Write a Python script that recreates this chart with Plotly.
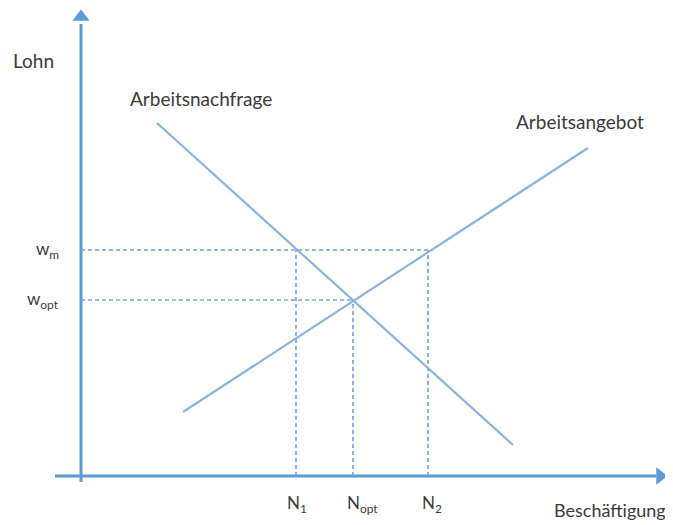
import plotly.graph_objects as go

# Data (chart units: origin at axis intersection)
demand_x = [76, 432]
demand_y = [353, 31]
supply_x = [102, 507]
supply_y = [64, 328]
w_levels = {"w_m": 226, "w_opt": 176}
n_levels = {"N1": 215, "N_opt": 272, "N2": 347}
w_labels = ["w<sub>m</sub>", "w<sub>opt</sub>"]
n_labels = ["N<sub>1</sub>", "N<sub>opt</sub>", "N<sub>2</sub>"]
x_axis_span = [-26, 575]
y_axis_span = [-6, 452]

AX = "#5B9BD5"
CURVE = "#8AB2DF"
DASH = "#6FA3DA"
TXT = "#3a3a3a"
FONT = "Lato"

fig = go.Figure()

# axes with arrowheads
fig.add_trace(go.Scatter(x=x_axis_span, y=[0, 0], mode="lines",
                         line=dict(color=AX, width=3), hoverinfo="skip"))
fig.add_trace(go.Scatter(x=[0, 0], y=y_axis_span, mode="lines",
                         line=dict(color=AX, width=3), hoverinfo="skip"))
fig.add_trace(go.Scatter(x=[x_axis_span[1] + 4], y=[0], mode="markers",
                         marker=dict(symbol="triangle-right", size=15, color=AX), hoverinfo="skip"))
fig.add_trace(go.Scatter(x=[0], y=[y_axis_span[1] + 7], mode="markers",
                         marker=dict(symbol="triangle-up", size=15, color=AX), hoverinfo="skip"))

# dashed guide lines
wm, wo = w_levels["w_m"], w_levels["w_opt"]
n1, no, n2 = n_levels["N1"], n_levels["N_opt"], n_levels["N2"]
dash_lines = [
    ([0, n2], [wm, wm]),
    ([0, no], [wo, wo]),
    ([n1, n1], [0, wm]),
    ([no, no], [0, wo]),
    ([n2, n2], [0, wm]),
]
for xs, ys in dash_lines:
    fig.add_trace(go.Scatter(x=xs, y=ys, mode="lines",
                             line=dict(color=DASH, width=1.6, dash="4px,3px"), hoverinfo="skip"))

# demand and supply
fig.add_trace(go.Scatter(x=demand_x, y=demand_y, mode="lines",
                         line=dict(color=CURVE, width=2.2), hoverinfo="skip"))
fig.add_trace(go.Scatter(x=supply_x, y=supply_y, mode="lines",
                         line=dict(color=CURVE, width=2.2), hoverinfo="skip"))

ann = []
def txt(x, y, s, size=19, xanchor="center"):
    ann.append(dict(x=x, y=y, text=s, showarrow=False, xref="x", yref="y",
                    xanchor=xanchor,
                    font=dict(family=FONT, size=size, color=TXT)))

txt(-48, 416, "Lohn")
txt(587, -34, "Beschäftigung", size=18, xanchor="right")
txt(120, 378, "Arbeitsnachfrage")
txt(499, 355, "Arbeitsangebot")
txt(-34, wm, w_labels[0], 17)
txt(-38, wo, w_labels[1], 17)
txt(n1 + 1, -28, n_labels[0], 17)
txt(no + 9, -28, n_labels[1], 17)
txt(n2 + 4, -28, n_labels[2], 17)

# page body has an 8px margin: shrink figure and shift ranges to compensate
fig.update_layout(
    width=665, height=517,
    margin=dict(l=0, r=0, t=0, b=0),
    paper_bgcolor="white", plot_bgcolor="white",
    showlegend=False,
    xaxis=dict(range=[-73, 592], visible=False, fixedrange=True),
    yaxis=dict(range=[-49, 468], visible=False, fixedrange=True),
    annotations=ann,
)

fig.write_html("out.html")
